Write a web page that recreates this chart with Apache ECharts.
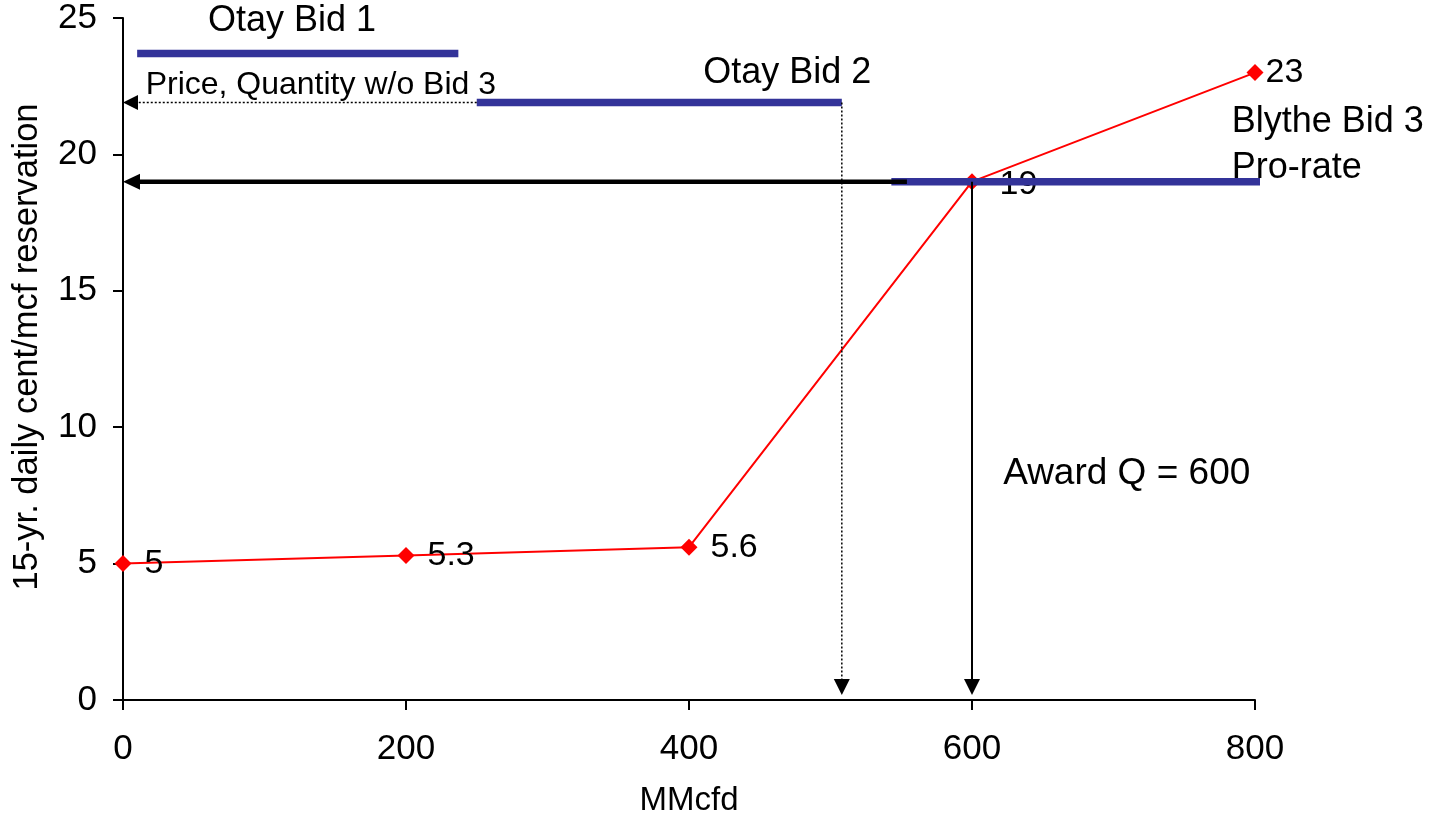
<!DOCTYPE html>
<html>
<head>
<meta charset="utf-8">
<title>Bid stack and award</title>
<script src="https://cdn.jsdelivr.net/npm/echarts@6/dist/echarts.min.js"></script>
<style>
  html, body { margin: 0; padding: 0; background: #fff; }
  #chart { width: 1433px; height: 819px; }
</style>
</head>
<body>
<div id="chart"></div>
<script>
// Supply curve (MMcfd vs. cents/mcf)
const supplyQty = [0, 200, 400, 600, 800];
const supplyPrice = [5, 5.3, 5.6, 19, 23];

// Bids: name, quantity span and price
const bidNames = ['Otay Bid 1', 'Otay Bid 2', 'Blythe Bid 3'];
const bidFrom = [10, 250, 543];
const bidTo = [237, 508, 813];
const bidPrice = [23.7, 21.9, 19];

// Award result
const awardQty = 600;
const clearingPrice = 19;
const priceWithoutBid3 = 21.9;
const qtyWithoutBid3 = 508;
const clearingArrowStart = 554;

// Axis ticks
const xTicks = [0, 200, 400, 600, 800];
const yTicks = [0, 5, 10, 15, 20, 25];

const FONT = "'Liberation Sans', Arial, sans-serif";

// Arrow kinds: solid heavy, solid thin, dotted thin (vertical), dotted thin (horizontal)
const arrowKinds = [
  { width: 4.5, dash: null, headLen: 17, headHalf: 8, gap: 0 },
  { width: 2, dash: null, headLen: 16, headHalf: 8, gap: 5 },
  { width: 1.5, dash: [2, 2], headLen: 16, headHalf: 8, gap: 5 },
  { width: 1.5, dash: [2, 2], headLen: 15, headHalf: 7.5, gap: 0 }
];

// [x1, y1, x2, y2, kind]
const arrows = [
  [clearingArrowStart, clearingPrice, 0, clearingPrice, 0],
  [bidFrom[1], priceWithoutBid3, 0, priceWithoutBid3, 3],
  [qtyWithoutBid3, priceWithoutBid3, qtyWithoutBid3, 0, 2],
  [awardQty, clearingPrice, awardQty, 0, 1]
];

const chart = echarts.init(document.getElementById('chart'), null, { renderer: 'canvas' });

const bidSeries = bidNames.map((name, i) => ({
  name: name,
  type: 'line',
  data: [[bidFrom[i], bidPrice[i]], [bidTo[i], bidPrice[i]]],
  symbol: 'none',
  lineStyle: { color: '#333399', width: 7.5, cap: 'butt' },
  clip: false,
  silent: true,
  z: 4
}));

const labelTweaks = {
  3: { distance: 19, offset: [0, 3] },
  4: { distance: 2 }
};

const supplyData = supplyQty.map((q, i) => {
  const item = { value: [q, supplyPrice[i]] };
  if (labelTweaks[i]) item.label = labelTweaks[i];
  return item;
});

// Free-standing notes: [x, y, text, align, fontSize]
const annotations = [
  [119.4, 24.9, 'Otay Bid 1', 'center', 36],
  [16, 22.55, 'Price, Quantity w/o Bid 3', 'left', 32],
  [410, 22.98, 'Otay Bid 2', 'left', 36],
  [783.5, 21.2, 'Blythe Bid 3', 'left', 36],
  [783.5, 19.5, 'Pro-rate', 'left', 36],
  [622, 8.28, 'Award Q = ' + awardQty, 'left', 37]
];

const option = {
  animation: false,
  backgroundColor: '#fff',
  grid: { left: 123, right: 178, top: 18, bottom: 119, containLabel: false, outerBoundsMode: 'none' },
  xAxis: {
    type: 'value',
    min: xTicks[0],
    max: xTicks[xTicks.length - 1],
    interval: 200,
    name: 'MMcfd',
    nameLocation: 'middle',
    nameGap: 84,
    nameTextStyle: { color: '#000', fontFamily: FONT, fontSize: 33, verticalAlign: 'top' },
    axisLine: { onZero: false, lineStyle: { color: '#000', width: 2 } },
    axisTick: { show: true, length: 10, inside: false, lineStyle: { color: '#000', width: 2 } },
    axisLabel: { color: '#000', fontFamily: FONT, fontSize: 35, margin: 32 },
    splitLine: { show: false }
  },
  yAxis: {
    type: 'value',
    min: yTicks[0],
    max: yTicks[yTicks.length - 1],
    interval: 5,
    name: '15-yr. daily cent/mcf reservation',
    nameLocation: 'middle',
    nameGap: 78,
    nameRotate: 90,
    nameTextStyle: { color: '#000', fontFamily: FONT, fontSize: 34.5, padding: [0, 0, 0, 24] },
    axisLine: { show: true, lineStyle: { color: '#000', width: 2 } },
    axisTick: { show: true, length: 10, inside: false, lineStyle: { color: '#000', width: 2 } },
    axisLabel: { color: '#000', fontFamily: FONT, fontSize: 35, margin: 26 },
    splitLine: { show: false }
  },
  series: [
    ...bidSeries,
    {
      name: 'Arrows',
      type: 'custom',
      coordinateSystem: 'cartesian2d',
      data: arrows,
      encode: { x: [0, 2], y: [1, 3] },
      clip: false,
      silent: true,
      z: 5,
      renderItem: function (params, api) {
        const p1 = api.coord([api.value(0), api.value(1)]);
        const p2 = api.coord([api.value(2), api.value(3)]);
        const k = arrowKinds[api.value(4)];
        const dx = p2[0] - p1[0], dy = p2[1] - p1[1];
        const len = Math.hypot(dx, dy) || 1;
        const ux = dx / len, uy = dy / len;
        const tip = [p2[0] - ux * k.gap, p2[1] - uy * k.gap];
        const base = [tip[0] - ux * k.headLen, tip[1] - uy * k.headLen];
        const nx = -uy, ny = ux;
        return {
          type: 'group',
          children: [
            {
              type: 'line',
              shape: { x1: p1[0], y1: p1[1], x2: base[0] + ux, y2: base[1] + uy },
              style: { stroke: '#000', lineWidth: k.width, lineDash: k.dash, fill: null }
            },
            {
              type: 'polygon',
              shape: {
                points: [
                  tip,
                  [base[0] + nx * k.headHalf, base[1] + ny * k.headHalf],
                  [base[0] - nx * k.headHalf, base[1] - ny * k.headHalf]
                ]
              },
              style: { fill: '#000', stroke: null }
            }
          ]
        };
      }
    },
    {
      name: 'Supply',
      type: 'line',
      data: supplyData,
      symbol: 'diamond',
      symbolSize: 17,
      lineStyle: { color: '#ff0000', width: 2 },
      itemStyle: { color: '#ff0000' },
      label: {
        show: true,
        position: 'right',
        distance: 13,
        color: '#000',
        fontFamily: FONT,
        fontSize: 34,
        formatter: p => p.value[1]
      },
      clip: false,
      silent: true,
      z: 3
    },
    {
      name: 'Notes',
      type: 'custom',
      coordinateSystem: 'cartesian2d',
      data: annotations,
      encode: { x: 0, y: 1 },
      clip: false,
      silent: true,
      z: 3,
      renderItem: function (params, api) {
        const item = annotations[params.dataIndex];
        const p = api.coord([item[0], item[1]]);
        return {
          type: 'text',
          x: p[0],
          y: p[1],
          style: {
            text: item[2],
            fill: '#000',
            font: item[4] + 'px ' + FONT,
            align: item[3],
            verticalAlign: 'middle'
          }
        };
      }
    }
  ]
};

chart.setOption(option);
</script>
</body>
</html>
